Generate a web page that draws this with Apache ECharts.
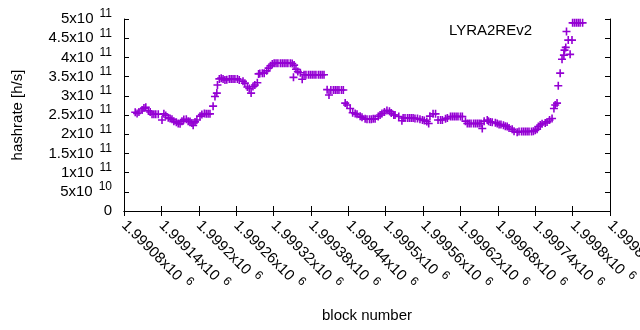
<!DOCTYPE html>
<html>
<head>
<meta charset="utf-8">
<script src="https://cdn.jsdelivr.net/npm/echarts@6/dist/echarts.min.js"></script>
<style>
html, body { margin: 0; padding: 0; background: #fff; }
#chart { width: 640px; height: 330px; }
</style>
</head>
<body>
<div id="chart"></div>
<script>
// block numbers and hashrate (h/s)
const blocks = [
  1999098, 1999101, 1999104, 1999109, 1999112, 1999115, 1999119, 1999122, 1999125, 1999128, 1999131, 1999135,
  1999141, 1999144, 1999147, 1999151, 1999154, 1999157, 1999160, 1999164, 1999167, 1999170, 1999173, 1999176, 1999180, 1999183, 1999186, 1999189, 1999191, 1999194, 1999197, 1999202, 1999205, 1999209, 1999212, 1999215, 1999218,
  1999223, 1999226, 1999229, 1999230, 1999233, 1999236, 1999239, 1999242, 1999245, 1999249, 1999252, 1999255, 1999258, 1999262, 1999265, 1999271, 1999274, 1999278, 1999281, 1999284, 1999287, 1999290, 1999294,
  1999296, 1999298, 1999302, 1999305, 1999309, 1999312, 1999315, 1999318, 1999321, 1999324, 1999327, 1999331, 1999334, 1999337, 1999340, 1999343, 1999347, 1999350,
  1999352, 1999353, 1999356, 1999359, 1999363, 1999366, 1999369, 1999372, 1999376, 1999379, 1999382, 1999385, 1999388, 1999392, 1999395, 1999398, 1999401,
  1999406, 1999409, 1999412, 1999416, 1999419, 1999422, 1999425, 1999429, 1999432,
  1999435, 1999438, 1999443, 1999447, 1999451, 1999454, 1999459, 1999462, 1999467, 1999470, 1999474, 1999477, 1999480, 1999483,
  1999488, 1999491, 1999494, 1999498, 1999502, 1999506, 1999509, 1999513, 1999515, 1999521, 1999526,
  1999528, 1999531, 1999535, 1999538, 1999541, 1999544, 1999547, 1999551,
  1999555, 1999559, 1999562, 1999566, 1999569, 1999571, 1999576, 1999580, 1999584, 1999588, 1999591, 1999596, 1999599,
  1999604, 1999607, 1999610, 1999613, 1999616, 1999620, 1999623,
  1999628, 1999631, 1999634, 1999637, 1999641, 1999644, 1999647, 1999650, 1999653,
  1999655, 1999658, 1999663, 1999665, 1999668, 1999671, 1999676, 1999679, 1999682, 1999685, 1999689, 1999692, 1999695, 1999698, 1999703, 1999706, 1999711,
  1999714, 1999718, 1999721, 1999724, 1999727, 1999730, 1999734,
  1999737, 1999740, 1999743, 1999745, 1999748, 1999751, 1999756, 1999759, 1999763, 1999767, 1999770, 1999772, 1999775, 1999777, 1999780, 1999783, 1999786, 1999787, 1999789,
  1999793, 1999796, 1999799,
  1999800, 1999803, 1999806, 1999809, 1999812, 1999816
]
const hashrate = [
  257e9, 254e9, 258e9, 263e9, 268e9, 270e9, 261e9, 258e9, 252e9, 252e9, 252e9, 252e9,
  237e9, 253e9, 249e9, 243e9, 241e9, 239e9, 234e9, 231e9, 228e9, 227e9, 234e9, 238e9, 239e9, 234e9, 233e9, 229e9, 223e9, 232e9, 237e9, 247e9, 251e9, 254e9, 253e9, 253e9, 253e9,
  273e9, 298e9, 307e9, 328e9, 344e9, 346e9, 344e9, 341e9, 342e9, 344e9, 344e9, 344e9, 344e9, 344e9, 341e9, 338e9, 333e9, 323e9, 319e9, 307e9, 324e9, 328e9, 334e9,
  357e9, 358e9, 359e9, 359e9, 365e9, 372e9, 378e9, 383e9, 385e9, 385e9, 385e9, 385e9, 385e9, 385e9, 385e9, 385e9, 385e9, 384e9,
  348e9, 380e9, 369e9, 363e9, 360e9, 343e9, 355e9, 355e9, 355e9, 355e9, 355e9, 355e9, 355e9, 355e9, 355e9, 355e9, 355e9,
  316e9, 302e9, 315e9, 315e9, 315e9, 315e9, 315e9, 315e9, 315e9,
  281e9, 276e9, 267e9, 256e9, 254e9, 252e9, 247e9, 244e9, 240e9, 239e9, 239e9, 239e9, 240e9, 240e9,
  246e9, 250e9, 254e9, 258e9, 262e9, 260e9, 255e9, 250e9, 250e9, 246e9, 235e9,
  242e9, 242e9, 242e9, 242e9, 242e9, 242e9, 241e9, 241e9,
  239e9, 237e9, 236e9, 233e9, 228e9, 247e9, 253e9, 253e9, 237e9, 237e9, 237e9, 240e9, 242e9,
  246e9, 246e9, 246e9, 246e9, 246e9, 246e9, 246e9,
  234e9, 228e9, 228e9, 228e9, 228e9, 228e9, 228e9, 228e9, 228e9,
  215e9, 234e9, 237e9, 234e9, 232e9, 231e9, 230e9, 228e9, 225e9, 225e9, 223e9, 221e9, 220e9, 216e9, 213e9, 208e9, 205e9,
  207e9, 207e9, 207e9, 207e9, 207e9, 207e9, 207e9,
  208e9, 210e9, 213e9, 220e9, 224e9, 227e9, 229e9, 232e9, 237e9, 241e9, 267e9, 276e9, 281e9, 326e9, 359e9, 395e9, 406e9, 419e9, 426e9,
  445e9, 408e9, 445e9,
  490e9, 490e9, 490e9, 490e9, 490e9, 490e9
]

const seriesName = 'LYRA2REv2'
const xMin = 1999080, xMax = 1999860, xStep = 60
const yMin = 0, yMax = 5e11, yStep = 5e10

const font = 'Liberation Sans, Arial, sans-serif'
const plus = 'path://M0,4H10V6H0Z M4,0H6V10H4Z'
const violet = '#9400d3'

// gnuplot style "1.5x10^11" labels
function sci(v) {
  if (v === 0) return '{m|0}'
  const e = Math.floor(Math.log10(v) + 1e-9)
  const m = parseFloat((v / Math.pow(10, e)).toPrecision(6))
  return '{m|' + m + 'x10}{e|' + e + '}'
}
const rich = {
  m: { fontSize: 15, lineHeight: 22, fontFamily: font, color: '#000' },
  e: { fontSize: 12, lineHeight: 12, verticalAlign: 'top', fontFamily: font, color: '#000', padding: [0, 0, 0, 6] }
}

const points = blocks.map((b, i) => [b, hashrate[i]])

const chart = echarts.init(document.getElementById('chart'))
chart.setOption({
  animation: false,
  backgroundColor: '#fff',
  grid: { left: 124, right: 30, top: 19, bottom: 119, containLabel: false, outerBoundsMode: 'none' },
  // key: title text on the left, sample point on the right
  title: {
    text: seriesName,
    right: 108,
    top: 23,
    padding: 0,
    textStyle: { fontSize: 15, fontWeight: 'normal', fontFamily: font, color: '#000' }
  },
  legend: {
    data: [seriesName],
    right: 69.5,
    top: 27.5,
    padding: 0,
    align: 'right',
    icon: plus,
    itemWidth: 8,
    itemHeight: 8,
    formatter: () => '',
    textStyle: { fontSize: 1 }
  },
  xAxis: [
    {
      type: 'value', min: xMin, max: xMax, interval: xStep,
      name: 'block number', nameLocation: 'middle', nameGap: 97,
      nameTextStyle: { fontSize: 15, fontFamily: font, color: '#000' },
      axisLine: { lineStyle: { color: '#000', width: 1 } },
      axisTick: { inside: true, length: 5, lineStyle: { color: '#000' } },
      axisLabel: { rotate: -45, margin: 12, formatter: sci, rich: rich },
      splitLine: { show: false }
    },
    {
      type: 'value', position: 'top', min: xMin, max: xMax, interval: xStep,
      axisLine: { lineStyle: { color: '#000', width: 1 } },
      axisTick: { inside: true, length: 5, lineStyle: { color: '#000' } },
      axisLabel: { show: false },
      splitLine: { show: false }
    }
  ],
  yAxis: [
    {
      type: 'value', min: yMin, max: yMax, interval: yStep,
      name: 'hashrate [h/s]', nameLocation: 'middle', nameGap: 99,
      nameTextStyle: { fontSize: 15, fontFamily: font, color: '#000' },
      axisLine: { show: true, lineStyle: { color: '#000', width: 1 } },
      axisTick: { show: true, inside: true, length: 5, lineStyle: { color: '#000' } },
      axisLabel: { margin: 12, formatter: sci, rich: rich },
      splitLine: { show: false }
    },
    {
      type: 'value', position: 'right', min: yMin, max: yMax, interval: yStep,
      axisLine: { show: true, lineStyle: { color: '#000', width: 1 } },
      axisTick: { show: true, inside: true, length: 5, lineStyle: { color: '#000' } },
      axisLabel: { show: false },
      splitLine: { show: false }
    }
  ],
  series: [
    {
      name: seriesName,
      type: 'scatter',
      data: points,
      symbol: plus,
      symbolSize: 8,
      itemStyle: { color: violet, opacity: 1 }
    }
  ]
})
</script>
</body>
</html>
